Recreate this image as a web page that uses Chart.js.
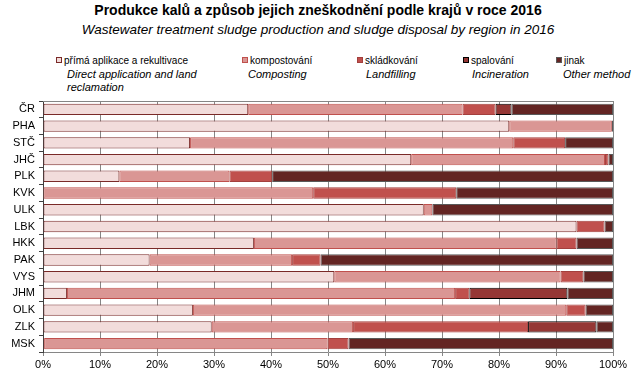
<!DOCTYPE html>
<html lang="cs">
  <head>
    <meta charset="UTF-8" />
    <script src="https://cdn.jsdelivr.net/npm/chart.js"></script>
    <title>Produkce kalů</title>
    <style>
      body { margin: 0; background: #fff; font-family: "Liberation Sans", Arial, sans-serif; }
      #obal { position: relative; width: 636px; height: 376px; }
      .nadpis { position: absolute; left: 0; width: 636px; text-align: center; color: #000; white-space: nowrap; }
      .leg { position: absolute; font-size: 10px; color: #000; white-space: nowrap; line-height: 12px; }
      .leg i { position: absolute; white-space: nowrap; }
      .znacka { display: inline-block; width: 4px; height: 4px; border: 1px solid; margin-right: 2px; vertical-align: 1px; }
    </style>
  </head>
  <body>
    <div id="obal">
      <div class="nadpis" id="titul" style="top: 2px; font-size: 14px; font-weight: bold"></div>
      <div class="nadpis" id="podtitul" style="top: 22px; font-size: 13.5px; font-style: italic"></div>
      <div id="legenda"></div>
      <canvas id="graf" width="636" height="376"></canvas>
    </div>

    <script>
      // data (podily v %)
      const titul = "Produkce kalů a způsob jejich zneškodnění  podle krajů v roce 2016";
      const podtitul = "Wastewater treatment sludge production and sludge disposal by region in 2016";
      const kraje = ["ČR", "PHA", "STČ", "JHČ", "PLK", "KVK", "ULK", "LBK", "HKK", "PAK", "VYS", "JHM", "OLK", "ZLK", "MSK"];
      const primaAplikace = [36.0, 81.8, 25.8, 64.6, 13.4, 0, 66.8, 93.6, 37.0, 18.7, 51.1, 4.2, 26.3, 29.6, 0.2];
      const kompostovani = [37.6, 18.0, 56.7, 34.0, 19.3, 47.4, 1.5, 0, 53.1, 25.0, 39.7, 68.1, 65.5, 24.8, 49.7];
      const skladkovani = [5.8, 0, 9.1, 0.6, 7.5, 25.1, 0, 4.9, 3.5, 5.0, 4.0, 2.5, 3.4, 30.7, 3.7];
      const spalovani = [2.8, 0, 0, 0, 0, 0, 0, 0, 0, 0, 0, 17.2, 0, 12.0, 0];
      const jinak = [17.8, 0.2, 8.4, 0.8, 59.8, 27.5, 31.7, 1.5, 6.4, 51.3, 5.2, 8.0, 4.8, 2.9, 46.4];
      const nazvyCZ = ["přímá aplikace a rekultivace", "kompostování", "skládkování", "spalování", "jinak"];
      const nazvyEN = ["Direct application and land\nreclamation", "Composting", "Landfilling", "Incineration", "Other method"];
      const osaX = [0, 10, 20, 30, 40, 50, 60, 70, 80, 90, 100];

      const vyplne = ["#f2dcdb", "#da9694", "#c0504d", "#953735", "#632523"];
      const okraje = ["#7a2a28", "#c0504d", "#a33f3d", "#000000", "#595959"];
      const hodnoty = [primaAplikace, kompostovani, skladkovani, spalovani, jinak];

      document.getElementById("titul").textContent = titul;
      document.getElementById("podtitul").textContent = podtitul;

      // legenda - vlastni, dva radky (cesky + anglicky kurzivou)
      const legX = [56, 242, 357, 463, 556];
      const legEN = [11, 6, 9, 9, 7];
      const legenda = document.getElementById("legenda");
      nazvyCZ.forEach((n, i) => {
        const d = document.createElement("div");
        d.className = "leg";
        d.style.left = legX[i] + "px";
        d.style.top = "55px";
        d.innerHTML = '<span class="znacka" style="background:' + vyplne[i] + ";border-color:" + okraje[i] + '"></span>' + n;
        const en = document.createElement("i");
        en.style.left = legEN[i] + "px";
        en.style.top = "13px";
        en.style.fontSize = "11px";
        en.style.lineHeight = "12.5px";
        en.innerHTML = nazvyEN[i].split("\n").join("<br>");
        d.appendChild(en);
        legenda.appendChild(d);
      });

      // horni linka grafu
      const horniLinka = {
        id: "horniLinka",
        afterDraw(chart) {
          const a = chart.chartArea;
          const c = chart.ctx;
          c.save();
          c.strokeStyle = "#868686";
          c.lineWidth = 1;
          c.beginPath();
          c.moveTo(a.left, Math.round(a.top) + 0.5);
          c.lineTo(a.right, Math.round(a.top) + 0.5);
          c.stroke();
          c.restore();
        },
      };

      const ctx = document.getElementById("graf");
      ctx.style.position = "absolute";
      ctx.style.left = "0";
      ctx.style.top = "0";
      new Chart(ctx, {
        type: "bar",
        data: {
          labels: kraje,
          datasets: hodnoty.map((h, i) => ({
            label: nazvyCZ[i],
            data: h,
            backgroundColor: vyplne[i],
            borderColor: okraje[i],
            borderWidth: 1,
            borderSkipped: false,
            barPercentage: 0.68,
            categoryPercentage: 1,
          })),
        },
        plugins: [horniLinka],
        options: {
          indexAxis: "y",
          responsive: false,
          animation: false,
          layout: { padding: { top: 101, right: 23, left: 0, bottom: 0 } },
          plugins: { legend: { display: false }, tooltip: { enabled: false } },
          scales: {
            x: {
              stacked: true,
              min: 0,
              max: 100,
              afterBuildTicks: (s) => { s.ticks = osaX.map((v) => ({ value: v })); },
              afterFit: (s) => { s.height = 24; },
              grid: { color: "#868686", tickLength: 4, drawTicks: true },
              border: { color: "#868686" },
              ticks: {
                callback: (v) => v + "%",
                color: "#000",
                padding: 2,
                maxRotation: 0,
                font: { family: "Liberation Sans", size: 11 },
              },
            },
            y: {
              stacked: true,
              afterFit: (s) => { s.width = 43; },
              grid: { offset: true, drawOnChartArea: false, color: "#404040", tickLength: 4 },
              border: { color: "#404040" },
              ticks: {
                color: "#000",
                padding: 4,
                font: { family: "Liberation Sans", size: 11 },
              },
            },
          },
        },
      });
    </script>
  </body>
</html>
